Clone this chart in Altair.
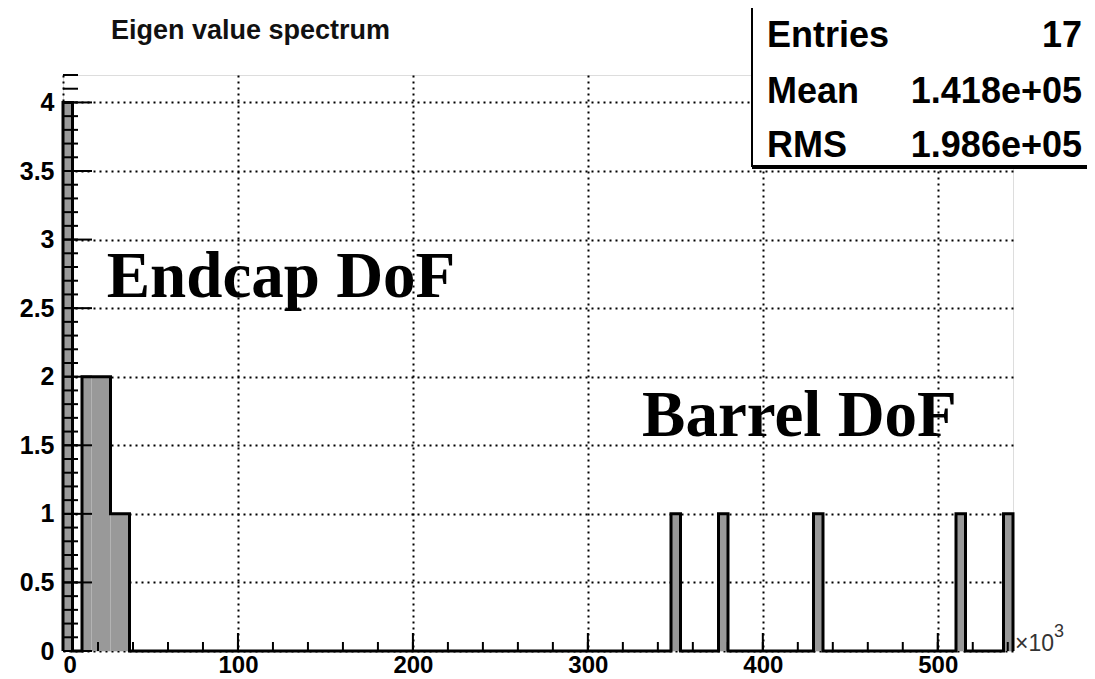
import altair as alt
import pandas as pd

# ---------------- data ----------------
n_bins = 100
x_min, x_max = 0.0, 543.0
y_max = 4.2
filled_bins = [0, 2, 3, 4, 5, 6, 64, 69, 79, 94, 99]
bin_counts = [4, 2, 2, 2, 1, 1, 1, 1, 1, 1, 1]

x_tick_values = [0, 100, 200, 300, 400, 500]
y_tick_values = [0, 0.5, 1, 1.5, 2, 2.5, 3, 3.5, 4]
x_minor_values = list(range(0, 541, 20))
y_minor_values = [round(0.1 * i, 1) for i in range(0, 43)]

title_text = "Eigen value spectrum"
stat_names = ["Entries", "Mean", "RMS"]
stat_values = ["17", "1.418e+05", "1.986e+05"]
ann_texts = ["Endcap DoF", "Barrel DoF"]
ann_x = [25.0, 331.0]
ann_y = [2.58, 1.57]

# ---------------- build tables ----------------
counts = [0] * n_bins
for b, c in zip(filled_bins, bin_counts):
    counts[b] = c
bw = (x_max - x_min) / n_bins
rows = [{"i": 0, "x": x_min, "y": 0}]
for k in range(n_bins):
    rows.append({"i": k + 1, "x": x_min + k * bw, "y": counts[k]})
rows.append({"i": n_bins + 1, "x": x_max, "y": counts[-1]})
rows.append({"i": n_bins + 2, "x": x_max, "y": 0})
hist = pd.DataFrame(rows)

W, H = 950, 576
xs = alt.Scale(domain=[x_min, x_max], nice=False, zero=False)
ys = alt.Scale(domain=[0, y_max], nice=False)

common_axis = dict(title=None, domain=False, ticks=False, grid=True, gridDash=[2, 4],
                   gridColor="#000", gridWidth=2, gridOpacity=1,
                   labelFont="Liberation Sans", labelFontWeight="bold",
                   labelColor="#000")
X = alt.X("x:Q", scale=xs,
          axis=alt.Axis(values=x_tick_values, format="d", labelPadding=2,
                        labelFontSize=24, **common_axis))
Y = alt.Y("y:Q", scale=ys,
          axis=alt.Axis(values=y_tick_values, format="~g", labelPadding=9,
                        labelFontSize=25, **common_axis))

area = alt.Chart(hist).mark_area(interpolate="step-after", color="#999999").encode(
    x=X, y=Y, order="i:Q")
line = alt.Chart(hist).mark_line(interpolate="step-after", color="#000", strokeWidth=3).encode(
    x=alt.X("x:Q", scale=xs), y=alt.Y("y:Q", scale=ys), order="i:Q")

xmaj = alt.Chart(pd.DataFrame({"x": x_tick_values})).mark_rule(color="#000", strokeWidth=2).encode(
    x=alt.X("x:Q", scale=xs), y=alt.value(H), y2=alt.value(H - 18))
xmin_ = alt.Chart(pd.DataFrame({"x": x_minor_values})).mark_rule(color="#000", strokeWidth=2).encode(
    x=alt.X("x:Q", scale=xs), y=alt.value(H), y2=alt.value(H - 9))
ymaj = alt.Chart(pd.DataFrame({"y": y_tick_values})).mark_rule(color="#000", strokeWidth=2).encode(
    y=alt.Y("y:Q", scale=ys), x=alt.value(0), x2=alt.value(29))
ymin_ = alt.Chart(pd.DataFrame({"y": y_minor_values})).mark_rule(color="#000", strokeWidth=2).encode(
    y=alt.Y("y:Q", scale=ys), x=alt.value(0), x2=alt.value(15))

ann = alt.Chart(pd.DataFrame({"x": ann_x, "y": ann_y, "t": ann_texts})).mark_text(
    font="Liberation Serif", fontWeight="bold", fontSize=65, align="left",
    baseline="alphabetic", color="#000").encode(
    x=alt.X("x:Q", scale=xs), y=alt.Y("y:Q", scale=ys), text="t:N")

one = pd.DataFrame({"t": [title_text]})
title = alt.Chart(one).mark_text(font="Liberation Sans", fontWeight="bold", fontSize=27,
                                 align="left", baseline="alphabetic", color="#111").encode(
    x=alt.value(48), y=alt.value(-36), text="t:N")

box = alt.Chart(one).mark_rect(fill="white", stroke="#000", strokeWidth=2).encode(
    x=alt.value(689), x2=alt.value(1040), y=alt.value(-68), y2=alt.value(91))
shadow = alt.Chart(one).mark_rule(color="#000", strokeWidth=4).encode(
    x=alt.value(689), x2=alt.value(1040), y=alt.value(92))

stat_layers = []
stat_base_y = [-28, 28, 82]
for name, val, yy in zip(stat_names, stat_values, stat_base_y):
    d = pd.DataFrame({"n": [name], "v": [val]})
    stat_layers.append(alt.Chart(d).mark_text(font="Liberation Sans", fontWeight="bold",
                                              fontSize=36, align="left", baseline="alphabetic",
                                              color="#000").encode(
        x=alt.value(704), y=alt.value(yy), text="n:N"))
    stat_layers.append(alt.Chart(d).mark_text(font="Liberation Sans", fontWeight="bold",
                                              fontSize=36, align="right", baseline="alphabetic",
                                              color="#000").encode(
        x=alt.value(1019), y=alt.value(yy), text="v:N"))

exp = pd.DataFrame({"a": ["\u00d710"], "b": ["3"]})
times10 = alt.Chart(exp).mark_text(font="Liberation Sans", fontSize=23, align="left",
                                   baseline="alphabetic", color="#333").encode(
    x=alt.value(952), y=alt.value(H), text="a:N")
sup3 = alt.Chart(exp).mark_text(font="Liberation Sans", fontSize=18, align="left",
                                baseline="alphabetic", color="#333").encode(
    x=alt.value(991), y=alt.value(H - 14), text="b:N")

chart = alt.layer(area, line, xmaj, xmin_, ymaj, ymin_, ann, box, shadow, *stat_layers,
                  title, times10, sup3).properties(
    width=W, height=H,
    autosize=alt.AutoSizeParams(type="none"),
    padding={"left": 55, "top": 67, "right": 74, "bottom": 28},
).configure_view(stroke="#000", strokeWidth=2.5).configure(background="white")

chart.save("out.html", embed_options={"renderer": "svg", "actions": False})
